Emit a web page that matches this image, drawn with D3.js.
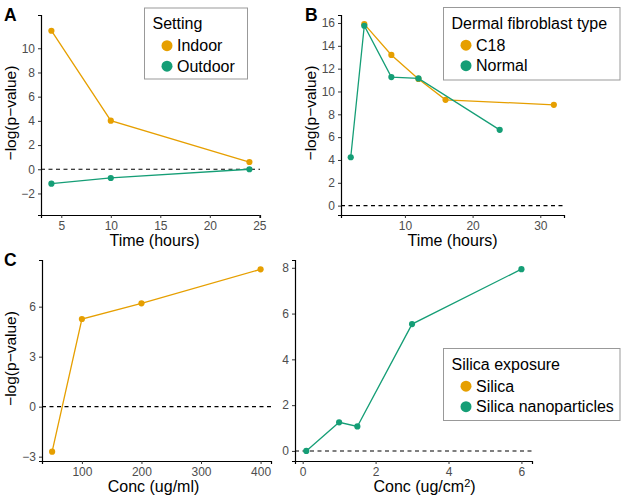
<!DOCTYPE html>
<html><head><meta charset="utf-8">
<script src="https://cdn.jsdelivr.net/npm/d3@7"></script>
<style>body{margin:0;background:#fff}svg{font-family:"Liberation Sans",Arial,sans-serif}</style>
</head><body><svg id="c" width="625" height="500"></svg>
<script>
const ORANGE = "#E69F00", GREEN = "#159E76";

// Panel A
const aIndoorX = [4, 10, 24], aIndoorY = [11.45, 4.02, 0.6];
const aOutdoorX = [4, 10, 24], aOutdoorY = [-1.19, -0.72, 0];
const aXTicks = [5, 10, 15, 20, 25], aYTicks = [-2, 0, 2, 4, 6, 8, 10];
// Panel B
const bC18X = [4, 8, 12, 16, 32], bC18Y = [15.9, 13.2, 11.1, 9.27, 8.83];
const bNormalX = [2, 4, 8, 12, 24], bNormalY = [4.24, 15.76, 11.26, 11.14, 6.64];
const bXTicks = [10, 20, 30], bYTicks = [0, 2, 4, 6, 8, 10, 12, 14, 16];
// Panel C
const cSilicaX = [50, 100, 200, 400], cSilicaY = [-2.7, 5.26, 6.2, 8.24];
const cXTicks = [100, 200, 300, 400], cYTicks = [-3, 0, 3, 6];
const dNanoX = [0.1, 1, 1.5, 3, 6], dNanoY = [0, 1.25, 1.07, 5.54, 7.94];
const dXTicks = [0, 2, 4, 6], dYTicks = [0, 2, 4, 6, 8];

const svg = d3.select("#c");

function panel(o) {
  const x = d3.scaleLinear().domain(o.xd).range([o.x0, o.x1]);
  const y = d3.scaleLinear().domain(o.yd).range([o.y1, o.y0]);
  const g = svg.append("g");
  g.append("line").attr("x1", o.x0).attr("x2", o.x1).attr("y1", y(0)).attr("y2", y(0))
    .attr("stroke", "#000").attr("stroke-width", 1.1).attr("stroke-dasharray", "4,3.5");
  const xa = g.append("g").attr("transform", `translate(0,${o.y1})`)
    .call(d3.axisBottom(x).tickValues(o.xt).tickSize(3).tickPadding(3).tickFormat(d3.format("d")));
  const ya = g.append("g").attr("transform", `translate(${o.x0},0)`)
    .call(d3.axisLeft(y).tickValues(o.yt).tickSize(3).tickPadding(3).tickFormat(d => d < 0 ? "\u2212" + Math.abs(d) : d));
  [xa, ya].forEach(a => {
    a.select(".domain").attr("stroke", "#000").attr("stroke-width", 1.2);
    a.selectAll(".tick line").attr("stroke", "#333");
    a.selectAll(".tick text").attr("fill", "#4d4d4d").style("font-size", "12px");
  });
  o.series.forEach(s => {
    const pts = s.xs.map((v, i) => [v, s.ys[i]]);
    g.append("path").datum(pts).attr("fill", "none").attr("stroke", s.c).attr("stroke-width", 1.3)
      .attr("d", d3.line().x(d => x(d[0])).y(d => y(d[1])));
    g.selectAll(null).data(pts).enter().append("circle")
      .attr("cx", d => x(d[0])).attr("cy", d => y(d[1])).attr("r", 3.1).attr("fill", s.c);
  });
  if (o.ylab) {
    g.append("text").attr("transform", `translate(${o.ylabX},${(o.y0 + o.y1) / 2 - 2}) rotate(-90)`)
      .attr("text-anchor", "middle").style("font-size", "15.5px").attr("fill", "#000").text(o.ylab);
  }
  const xl = g.append("text").attr("x", (o.x0 + o.x1) / 2 + (o.xlabDx || 0)).attr("y", o.y1 + 31)
    .attr("text-anchor", "middle").style("font-size", "16px").attr("fill", "#000");
  if (o.xlabSup) {
    xl.append("tspan").text(o.xlab);
    xl.append("tspan").attr("dy", -5.5).style("font-size", "11px").text(o.xlabSup);
    xl.append("tspan").attr("dy", 5.5).text(")");
  } else xl.text(o.xlab);
}

panel({x0: 41, x1: 260, y0: 15, y1: 215, xd: [2.95, 25.07], yd: [-3.78, 12.75], xt: aXTicks, yt: aYTicks,
  series: [{xs: aIndoorX, ys: aIndoorY, c: ORANGE}, {xs: aOutdoorX, ys: aOutdoorY, c: GREEN}],
  ylab: "\u2212log(p\u2212value)", ylabX: 16, xlab: "Time (hours)", xlabDx: 4});
panel({x0: 341, x1: 564, y0: 15, y1: 215, xd: [0.56, 33.5], yd: [-0.82, 16.7], xt: bXTicks, yt: bYTicks,
  series: [{xs: bC18X, ys: bC18Y, c: ORANGE}, {xs: bNormalX, ys: bNormalY, c: GREEN}],
  ylab: "\u2212log(p\u2212value)", ylabX: 316, xlab: "Time (hours)"});
panel({x0: 42, x1: 271, y0: 260, y1: 461, xd: [33, 417.5], yd: [-3.26, 8.8], xt: cXTicks, yt: cYTicks,
  series: [{xs: cSilicaX, ys: cSilicaY, c: ORANGE}],
  ylab: "\u2212log(p\u2212value)", ylabX: 16, xlab: "Conc (ug/ml)", xlabDx: -3});
panel({x0: 295, x1: 532, y0: 260, y1: 461, xd: [-0.21, 6.29], yd: [-0.44, 8.34], xt: dXTicks, yt: dYTicks,
  series: [{xs: dNanoX, ys: dNanoY, c: GREEN}],
  xlab: "Conc (ug/cm", xlabSup: "2", xlabDx: 11});

function legend(x0, y0, w, h, title, items) {
  const g = svg.append("g");
  g.append("rect").attr("x", x0).attr("y", y0).attr("width", w).attr("height", h)
    .attr("fill", "#fff").attr("stroke", "#999").attr("stroke-width", 1);
  g.append("text").attr("x", x0 + 8).attr("y", y0 + 21).style("font-size", "16px").text(title);
  items.forEach((it, i) => {
    const cy = y0 + 37.7 + i * 20.5;
    g.append("circle").attr("cx", x0 + 22.5).attr("cy", cy).attr("r", 5.5).attr("fill", it.c);
    g.append("text").attr("x", x0 + 32.5).attr("y", cy + 5.5).style("font-size", "16px").text(it.t);
  });
}
legend(144.5, 8, 103, 71, "Setting", [{t: "Indoor", c: ORANGE}, {t: "Outdoor", c: GREEN}]);
legend(443.5, 7.5, 176.5, 72.5, "Dermal fibroblast type", [{t: "C18", c: ORANGE}, {t: "Normal", c: GREEN}]);
legend(443.5, 348.5, 176.5, 72, "Silica exposure", [{t: "Silica", c: ORANGE}, {t: "Silica nanoparticles", c: GREEN}]);

[["A", 4, 21], ["B", 305, 21], ["C", 4, 266]].forEach(l =>
  svg.append("text").attr("x", l[1]).attr("y", l[2]).style("font-size", "17.5px").style("font-weight", "bold").text(l[0]));
</script></body></html>
